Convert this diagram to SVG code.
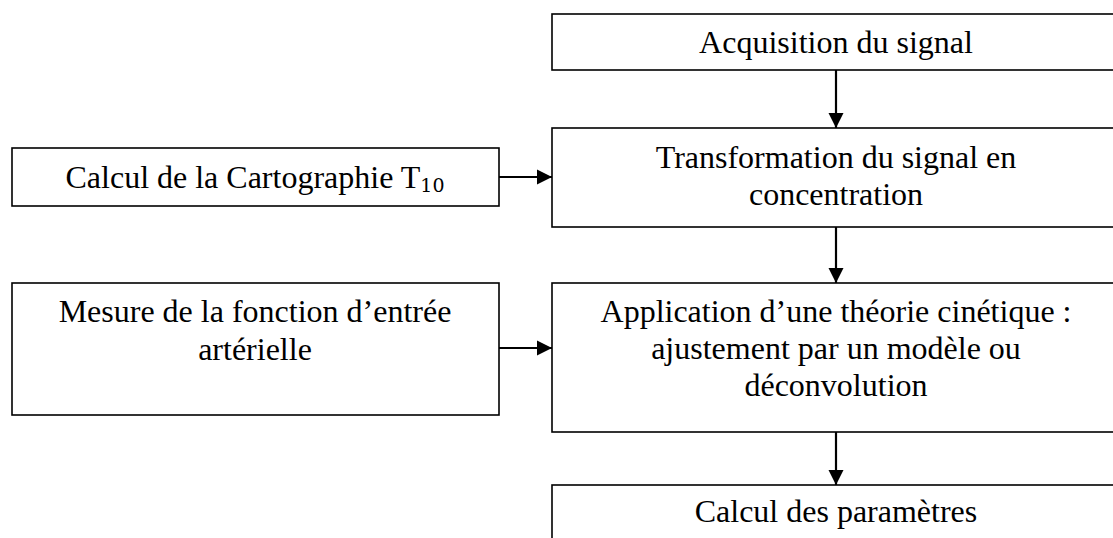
<svg xmlns="http://www.w3.org/2000/svg" width="1113" height="538" viewBox="0 0 1113 538">
<style>
.box{fill:#fff;stroke:#000;stroke-width:1.6}
.t{font-family:"Liberation Serif","Times New Roman",serif;font-size:32px;fill:#000;text-anchor:middle}
.sub{font-family:"DejaVu Serif","Liberation Serif",serif;font-size:19px}
.c{stroke:#000;stroke-width:2.2;fill:none}
</style>
<defs>
<marker id="ah" markerUnits="userSpaceOnUse" markerWidth="16" markerHeight="16" viewBox="0 0 16 16" refX="15" refY="8" orient="auto">
<path d="M0,0.5 L15,8 L0,15.5 Z" fill="#000"/>
</marker>
</defs>
<rect width="1113" height="538" fill="#fff"/>
<g id="acquisition">
<rect class="box" x="552" y="14" width="580" height="56"/>
<text class="t" x="836" y="53">Acquisition du signal</text>
</g>
<g id="transformation">
<rect class="box" x="552" y="128" width="580" height="99"/>
<text class="t" x="836" y="168">Transformation du signal en</text>
<text class="t" x="836" y="205">concentration</text>
</g>
<g id="cartographie">
<rect class="box" x="12" y="148" width="487" height="58"/>
<text class="t" x="255" y="188">Calcul de la Cartographie T<tspan class="sub" dy="4">10</tspan></text>
</g>
<g id="mesure">
<rect class="box" x="12" y="283" width="487" height="132"/>
<text class="t" x="255" y="322">Mesure de la fonction d’entrée</text>
<text class="t" x="255" y="360">artérielle</text>
</g>
<g id="application">
<rect class="box" x="552" y="283" width="580" height="149"/>
<text class="t" x="836" y="322">Application d’une théorie cinétique :</text>
<text class="t" x="836" y="359">ajustement par un modèle ou</text>
<text class="t" x="836" y="396">déconvolution</text>
</g>
<g id="parametres">
<rect class="box" x="552" y="485" width="580" height="80"/>
<text class="t" x="836" y="522">Calcul des paramètres</text>
</g>
<g id="connectors">
<line class="c" x1="836" y1="70" x2="836" y2="128" marker-end="url(#ah)"/>
<line class="c" x1="836" y1="227" x2="836" y2="283" marker-end="url(#ah)"/>
<line class="c" x1="836" y1="432" x2="836" y2="485" marker-end="url(#ah)"/>
<line class="c" x1="499" y1="177" x2="552" y2="177" marker-end="url(#ah)"/>
<line class="c" x1="499" y1="348" x2="552" y2="348" marker-end="url(#ah)"/>
</g>
</svg>
